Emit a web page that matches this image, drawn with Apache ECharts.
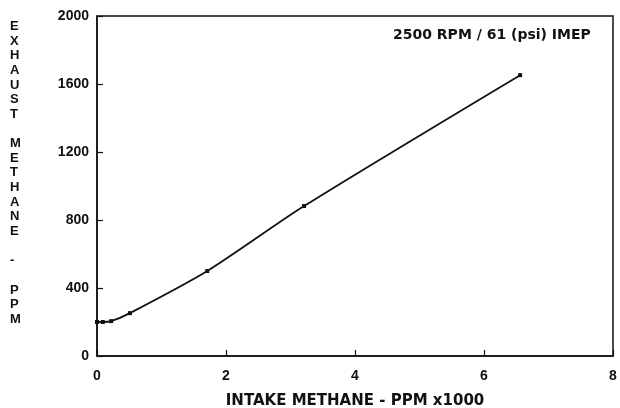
<!DOCTYPE html>
<html>
<head>
<meta charset="utf-8">
<script src="https://cdn.jsdelivr.net/npm/echarts@6/dist/echarts.min.js"></script>
<style>
  html, body { margin: 0; padding: 0; background: #fff; }
  #chart { width: 620px; height: 408px; }
</style>
</head>
<body>
<div id="chart"></div>
<script>
// Intake methane (ppm x1000) vs exhaust methane (ppm)
const intakeMethane = [0, 0.09, 0.22, 0.51, 1.71, 3.21, 6.56];
const exhaustMethane = [200, 200, 205, 252, 500, 882, 1652];

const xTicks = [0, 2, 4, 6, 8];
const yTicks = [0, 400, 800, 1200, 1600, 2000];

const xTitle = 'INTAKE METHANE - PPM x1000';
const yTitle = 'EXHAUST METHANE - PPM';
const note = '2500 RPM / 61 (psi) IMEP';

const FONT = '"Liberation Sans", Arial, Helvetica, sans-serif';
const WIDE = '"DejaVu Sans", Verdana, sans-serif';

const chart = echarts.init(document.getElementById('chart'), null, { renderer: 'canvas' });

const points = intakeMethane.map((x, i) => [x, exhaustMethane[i]]);

// y-axis title is drawn as a vertical stack of characters
const stacked = yTitle.split('').join('\n');

chart.setOption({
  animation: false,
  backgroundColor: '#fff',
  grid: {
    left: 97, right: 7, top: 16, bottom: 52,
    containLabel: false, outerBoundsMode: 'none',
    show: true, borderColor: '#111', borderWidth: 1.5, backgroundColor: 'transparent'
  },
  xAxis: {
    type: 'value',
    min: xTicks[0], max: xTicks[xTicks.length - 1], interval: 2,
    name: xTitle, nameLocation: 'middle', nameGap: 38,
    nameTextStyle: { fontFamily: WIDE, fontWeight: 'bold', fontSize: 15, color: '#111' },
    axisLine: { show: true, lineStyle: { color: '#111', width: 1.5 } },
    axisTick: { show: true, inside: true, length: 6, lineStyle: { color: '#111', width: 1.2 } },
    axisLabel: { margin: 13, fontFamily: FONT, fontWeight: 'bold', fontSize: 14, color: '#111',
      formatter: v => String(v) },
    splitLine: { show: false }
  },
  yAxis: {
    type: 'value',
    min: yTicks[0], max: yTicks[yTicks.length - 1], interval: 400,
    axisLine: { show: true, lineStyle: { color: '#111', width: 1.5 } },
    axisTick: { show: true, inside: true, length: 6, lineStyle: { color: '#111', width: 1.2 } },
    axisLabel: { margin: 8, fontFamily: FONT, fontWeight: 'bold', fontSize: 14, color: '#111',
      formatter: v => String(v) },
    splitLine: { show: false }
  },
  graphic: [
    {
      type: 'text', left: 10, top: 19, z: 10,
      style: {
        text: stacked, fill: '#111', font: 'bold 13px ' + FONT,
        lineHeight: 14.65, align: 'center', width: 16
      }
    },
    {
      type: 'text', left: 393, top: 28, z: 10,
      style: { text: note, fill: '#111', font: 'bold 14px ' + WIDE }
    }
  ],
  series: [{
    type: 'line',
    data: points,
    smooth: 0.25,
    symbol: 'rect',
    symbolSize: 4,
    itemStyle: { color: '#111' },
    lineStyle: { color: '#111', width: 1.8 }
  }]
});
</script>
</body>
</html>
